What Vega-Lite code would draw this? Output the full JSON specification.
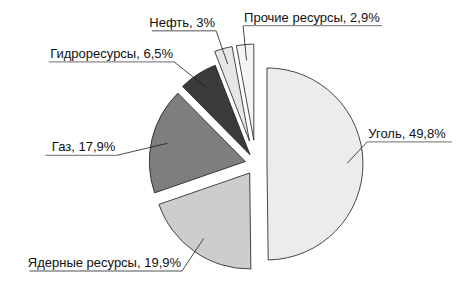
{
  "$schema": "https://vega.github.io/schema/vega-lite/v6.json",
  "width": 512,
  "height": 328,
  "autosize": {"type": "none"},
  "padding": 0,
  "background": "white",
  "config": {"view": {"stroke": null}},
  "data": {"values": [
    {"source": "Уголь", "value": 49.8, "label": "Уголь, 49,8%"},
    {"source": "Ядерные ресурсы", "value": 19.9, "label": "Ядерные ресурсы, 19,9%"},
    {"source": "Газ", "value": 17.9, "label": "Газ, 17,9%"},
    {"source": "Гидроресурсы", "value": 6.5, "label": "Гидроресурсы, 6,5%"},
    {"source": "Нефть", "value": 3.0, "label": "Нефть, 3%"},
    {"source": "Прочие ресурсы", "value": 2.9, "label": "Прочие ресурсы, 2,9%"}
  ]},
  "transform": [
    {"window": [{"op": "row_number", "as": "idx"}]},
    {"window": [{"op": "sum", "field": "value", "as": "cum"}], "sort": [{"field": "idx"}], "frame": [null, 0]},
    {"joinaggregate": [{"op": "sum", "field": "value", "as": "total"}]}
  ],
  "layer": [
    {
      "mark": {"type": "arc", "radius": 96, "stroke": "#1a1a1a", "strokeWidth": 0.8},
      "encoding": {
        "theta": {"field": "value", "type": "quantitative", "stack": true},
        "order": {"field": "idx", "type": "quantitative"},
        "color": {
          "field": "source", "type": "nominal", "legend": null,
          "scale": {
            "domain": ["Уголь", "Ядерные ресурсы", "Газ", "Гидроресурсы", "Нефть", "Прочие ресурсы"],
            "range": ["#ececec", "#cdcdcd", "#7e7e7e", "#3b3b3b", "#e6e6e6", "#f4f4f4"]
          }
        },
        "x": {"value": {"expr": "width/2+(datum.value<5?24:11)*sin(2*PI*(datum.cum-datum.value/2)/datum.total)"}},
        "y": {"value": {"expr": "height/2-(datum.value<5?24:11)*cos(2*PI*(datum.cum-datum.value/2)/datum.total)"}}
      }
    },
    {
      "mark": {"type": "rule", "stroke": "#1a1a1a", "strokeWidth": 0.8},
      "encoding": {
        "x": {"value": {"expr": "width/2+((datum.value<5?24:11)+80)*sin(2*PI*(datum.cum-datum.value/2)/datum.total)"}},
        "y": {"value": {"expr": "height/2-((datum.value<5?24:11)+80)*cos(2*PI*(datum.cum-datum.value/2)/datum.total)"}},
        "x2": {"value": {"expr": "width/2+(sin(2*PI*(datum.cum-datum.value/2)/datum.total-0.17*pow(sin(2*PI*(datum.cum-datum.value/2)/datum.total),2))>0?113:140)*sin(2*PI*(datum.cum-datum.value/2)/datum.total-0.17*pow(sin(2*PI*(datum.cum-datum.value/2)/datum.total),2))"}},
        "y2": {"value": {"expr": "height/2-(datum.value<5?139:126)*cos(2*PI*(datum.cum-datum.value/2)/datum.total-0.17*pow(sin(2*PI*(datum.cum-datum.value/2)/datum.total),2))"}}
      }
    },
    {
      "mark": {"type": "rule", "stroke": "#8a8a8a", "strokeWidth": 1.3},
      "encoding": {
        "x": {"value": {"expr": "width/2+(sin(2*PI*(datum.cum-datum.value/2)/datum.total-0.17*pow(sin(2*PI*(datum.cum-datum.value/2)/datum.total),2))>0?113:140)*sin(2*PI*(datum.cum-datum.value/2)/datum.total-0.17*pow(sin(2*PI*(datum.cum-datum.value/2)/datum.total),2))"}},
        "y": {"value": {"expr": "height/2-(datum.value<5?139:126)*cos(2*PI*(datum.cum-datum.value/2)/datum.total-0.17*pow(sin(2*PI*(datum.cum-datum.value/2)/datum.total),2))"}},
        "x2": {"value": {"expr": "width/2+(sin(2*PI*(datum.cum-datum.value/2)/datum.total-0.17*pow(sin(2*PI*(datum.cum-datum.value/2)/datum.total),2))>0?113:140)*sin(2*PI*(datum.cum-datum.value/2)/datum.total-0.17*pow(sin(2*PI*(datum.cum-datum.value/2)/datum.total),2))+(sin(2*PI*(datum.cum-datum.value/2)/datum.total)>-0.15?1:-1)*(length(datum.label)*6.8+3)"}},
        "y2": {"value": {"expr": "height/2-(datum.value<5?139:126)*cos(2*PI*(datum.cum-datum.value/2)/datum.total-0.17*pow(sin(2*PI*(datum.cum-datum.value/2)/datum.total),2))"}}
      }
    },
    {
      "mark": {
        "type": "text", "font": "Liberation Sans", "fontSize": 13, "fill": "#111111", "baseline": "alphabetic",
        "align": {"expr": "sin(2*PI*(datum.cum-datum.value/2)/datum.total)>-0.15?'left':'right'"}
      },
      "encoding": {
        "text": {"field": "label", "type": "nominal"},
        "x": {"value": {"expr": "width/2+(sin(2*PI*(datum.cum-datum.value/2)/datum.total-0.17*pow(sin(2*PI*(datum.cum-datum.value/2)/datum.total),2))>0?113:140)*sin(2*PI*(datum.cum-datum.value/2)/datum.total-0.17*pow(sin(2*PI*(datum.cum-datum.value/2)/datum.total),2))+(sin(2*PI*(datum.cum-datum.value/2)/datum.total)>-0.15?1:-1)"}},
        "y": {"value": {"expr": "height/2-(datum.value<5?139:126)*cos(2*PI*(datum.cum-datum.value/2)/datum.total-0.17*pow(sin(2*PI*(datum.cum-datum.value/2)/datum.total),2))-4"}}
      }
    }
  ]
}
